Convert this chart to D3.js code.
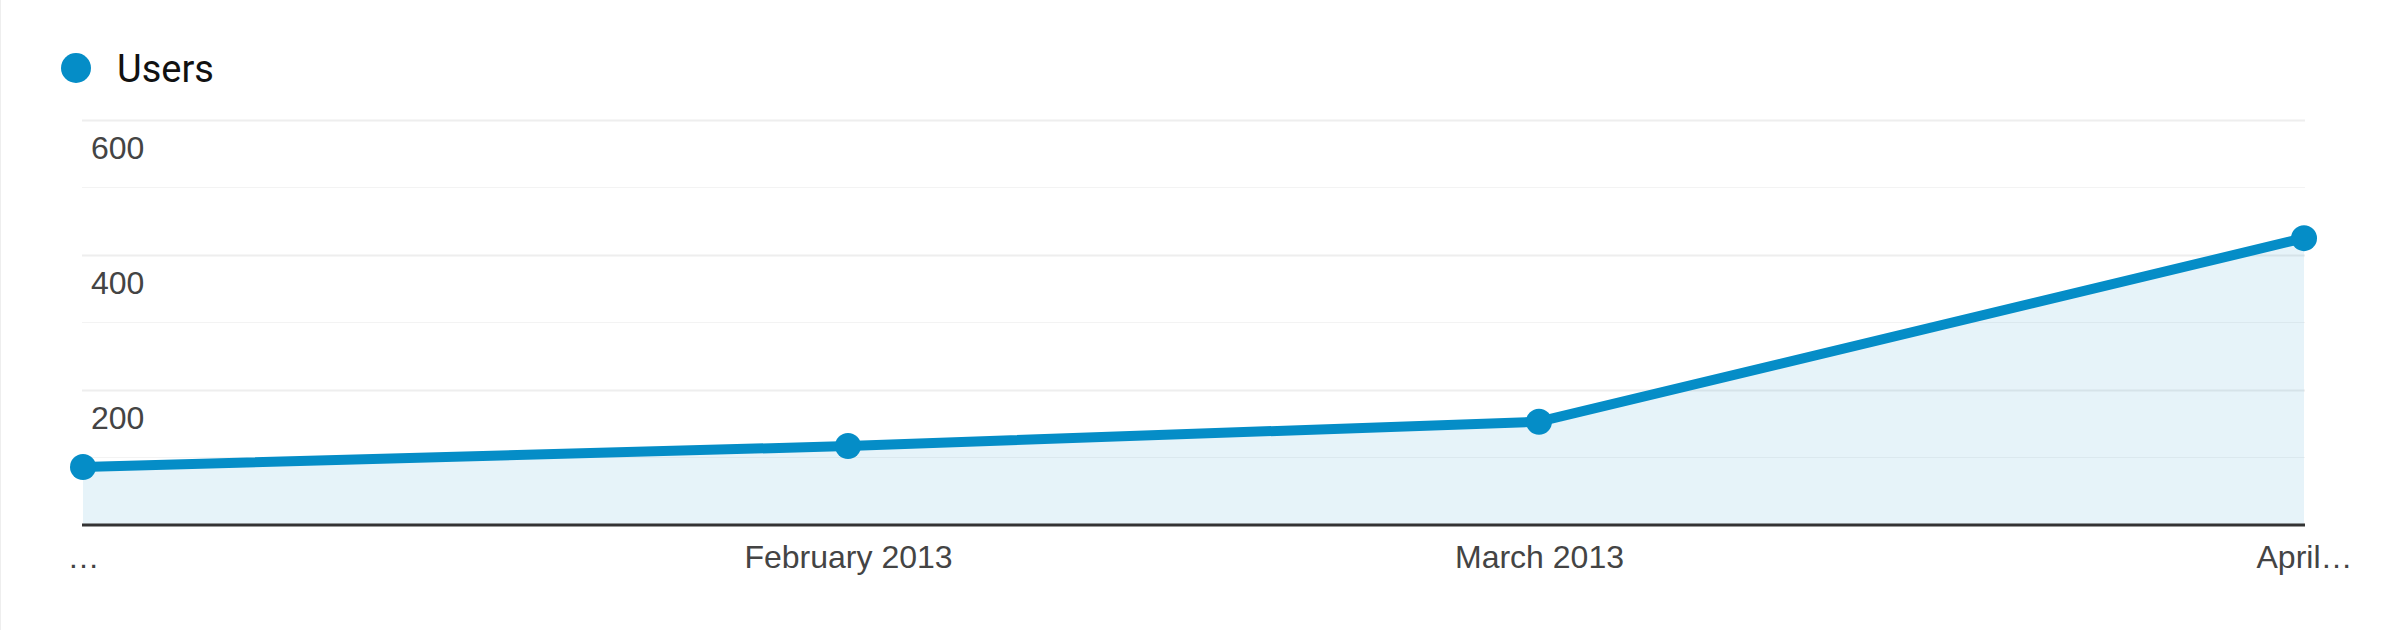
<!DOCTYPE html>
<html>
<head>
<meta charset="utf-8">
<script src="https://cdn.jsdelivr.net/npm/d3@7"></script>
<style>
  body { margin: 0; background: #fff; }
  svg { display: block; }
</style>
</head>
<body>
<div id="chart"></div>
<script>
// data
const months = ["2013-01-01", "2013-02-01", "2013-03-01", "2013-04-01"];
const users = [86, 117, 153, 425];
const monthLabels = ["…", "February 2013", "March 2013", "April…"];
const yTicks = [0, 200, 400, 600];
const yMinorTicks = [100, 300, 500];
const seriesName = "Users";

const W = 2398, H = 630;
const margin = {top: 120, right: 94, bottom: 105, left: 83};
const blue = "#058dc7";

const parse = d3.timeParse("%Y-%m-%d");
const dates = months.map(parse);
const data = dates.map((d, i) => ({date: d, value: users[i]}));

const svg = d3.select("#chart")
    .append("svg")
    .attr("width", W)
    .attr("height", H);

// thin border on the left
svg.append("line")
    .attr("x1", 0.5).attr("x2", 0.5)
    .attr("y1", 0).attr("y2", H)
    .attr("stroke", "#eeeeee");

const x = d3.scaleTime()
    .domain(d3.extent(dates))
    .range([margin.left, W - margin.right]);

const y = d3.scaleLinear()
    .domain([0, 600])
    .range([H - margin.bottom, margin.top]);

// minor gridlines
svg.append("g")
    .selectAll("line")
    .data(yMinorTicks)
    .join("line")
    .attr("x1", margin.left - 1)
    .attr("x2", W - margin.right + 1)
    .attr("y1", d => y(d))
    .attr("y2", d => y(d))
    .attr("stroke", "#f3f3f3")
    .attr("stroke-width", 1);

// major gridlines + labels inside the plot
const yAxis = svg.append("g")
    .attr("transform", `translate(${margin.left - 1}, 0)`)
    .call(d3.axisRight(y)
        .tickValues(yTicks.filter(d => d > 0))
        .tickSize(W - margin.right - margin.left + 2)
        .tickFormat(d3.format("d")));
yAxis.select(".domain").remove();
yAxis.selectAll(".tick line")
    .attr("stroke", "#eeeeee")
    .attr("stroke-width", 2);
yAxis.selectAll(".tick text")
    .attr("x", 9)
    .attr("dy", 38)
    .attr("text-anchor", "start")
    .attr("fill", "#444")
    .style("font-family", "'Liberation Sans', Arial, sans-serif")
    .style("font-size", "32px");

// area
const area = d3.area()
    .x(d => x(d.date))
    .y0(y(0))
    .y1(d => y(d.value));

svg.append("path")
    .datum(data)
    .attr("fill", blue)
    .attr("fill-opacity", 0.1)
    .attr("d", area);

// x axis
const xAxis = svg.append("g")
    .attr("transform", `translate(0, ${y(0)})`)
    .call(d3.axisBottom(x)
        .tickValues(dates)
        .tickSize(0)
        .tickPadding(20)
        .tickFormat((d, i) => monthLabels[i]));
xAxis.select(".domain")
    .attr("d", `M${margin.left - 1},0H${W - margin.right + 1}`)
    .attr("stroke", "#333")
    .attr("stroke-width", 3);
xAxis.selectAll(".tick text")
    .attr("dy", "0.71em")
    .attr("fill", "#444")
    .style("font-family", "'Liberation Sans', Arial, sans-serif")
    .style("font-size", "32px");

// line
const line = d3.line()
    .x(d => x(d.date))
    .y(d => y(d.value));

svg.append("path")
    .datum(data)
    .attr("fill", "none")
    .attr("stroke", blue)
    .attr("stroke-width", 10)
    .attr("stroke-linejoin", "round")
    .attr("d", line);

// points
svg.selectAll(".dot")
    .data(data)
    .join("circle")
    .attr("class", "dot")
    .attr("cx", d => x(d.date))
    .attr("cy", d => y(d.value))
    .attr("r", 13)
    .attr("fill", blue);

// legend
const legend = svg.append("g").attr("transform", "translate(76, 68)");
legend.append("circle")
    .attr("r", 15)
    .attr("fill", blue);
legend.append("text")
    .attr("x", 41)
    .attr("y", 14)
    .attr("fill", "#111")
    .style("font-family", "Roboto, Arial, sans-serif")
    .style("font-size", "38px")
    .text(seriesName);
</script>
</body>
</html>
